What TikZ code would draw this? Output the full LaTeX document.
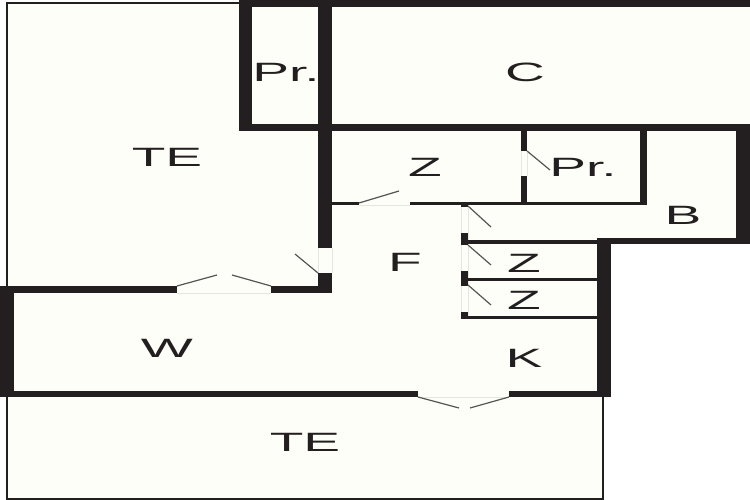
\documentclass[tikz,border=0pt]{standalone}
\usepackage{fontspec}
\setmainfont{Liberation Sans}
\definecolor{wallc}{HTML}{231F20}
\definecolor{roomc}{HTML}{FEFEF8}
\definecolor{gapc}{HTML}{E6E6E1}
\definecolor{leafc}{HTML}{555555}
\tikzset{
  wall/.style={fill=wallc,draw=none},
  thinwall/.style={draw=wallc,line width=2pt},
  leaf/.style={draw=leafc,line width=1.2pt},
  gapline/.style={draw=gapc,line width=1pt},
  roomlabel/.style={font=\fontsize{26.5}{26.5}\selectfont,text=wallc,transform shape,xscale=2.08,inner sep=0pt}
}
\begin{document}
\begin{tikzpicture}[x=1pt,y=-1pt]
\useasboundingbox (0,0) rectangle (750,500);
\fill[white] (0,0) rectangle (750,500);
% room floor
\fill[roomc] (7,2) -- (750,2) -- (750,244) -- (604,244) -- (604,499) -- (7,499) -- cycle;
% thin outer walls of the terraces
\draw[thinwall] (239,3) -- (7,3) -- (7,286);
\draw[thinwall] (7,397) -- (7,499) -- (603,499) -- (603,397);
% door gap lines
\draw[gapline] (359,205.5) -- (410,205.5);
\draw[gapline] (177,293) -- (271,293);
\draw[gapline] (418,397.5) -- (509,397.5);
\draw[gapline] (318,248) -- (318,273);
\draw[gapline] (332,248) -- (332,273);
\draw[gapline] (521,151) -- (521,176);
\draw[gapline] (527,151) -- (527,176);
\draw[gapline] (461,205) -- (461,316);
\draw[gapline] (468,205) -- (468,316);
% thick walls
\fill[wall] (239,0) rectangle (750,7);
\fill[wall] (239,0) rectangle (252,130);
\fill[wall] (318,0) rectangle (332,248);
\fill[wall] (239,124) rectangle (750,131);
\fill[wall] (736,124) rectangle (750,244);
\fill[wall] (597,238) rectangle (750,244);
\fill[wall] (597,238) rectangle (611,397);
\fill[wall] (521,131) rectangle (527,151);
\fill[wall] (521,176) rectangle (527,205);
\fill[wall] (640,131) rectangle (647,205);
\fill[wall] (332,202) rectangle (359,205);
\fill[wall] (410,202) rectangle (647,205);
\fill[wall] (461,203) rectangle (468,207);
\fill[wall] (461,233) rectangle (468,245);
\fill[wall] (461,271) rectangle (468,286);
\fill[wall] (461,312) rectangle (468,319);
\fill[wall] (468,240) rectangle (597,244);
\fill[wall] (468,278) rectangle (597,281);
\fill[wall] (468,316) rectangle (597,319);
\fill[wall] (318,273) rectangle (332,293);
\fill[wall] (0,286) rectangle (177,293);
\fill[wall] (271,286) rectangle (332,293);
\fill[wall] (0,286) rectangle (14,397);
\fill[wall] (0,391) rectangle (418,397);
\fill[wall] (509,391) rectangle (611,397);
% door leaves
\draw[leaf] (359,203) -- (399,191);
\draw[leaf] (527,151) -- (550,170);
\draw[leaf] (468,206) -- (491,227);
\draw[leaf] (468,245) -- (491,265);
\draw[leaf] (468,285) -- (491,305);
\draw[leaf] (318,273) -- (295,254);
\draw[leaf] (177,286) -- (217,275);
\draw[leaf] (271,286) -- (232,275);
\draw[leaf] (418,397) -- (459,408);
\draw[leaf] (509,397) -- (470,408);
% labels
\node[roomlabel] (pr1) at (286,72) {Pr.};
\node[roomlabel] (c) at (525,72) {C};
\node[roomlabel] (te1) at (167,157) {TE};
\node[roomlabel] (z1) at (425,167) {Z};
\node[roomlabel] (pr2) at (583,167) {Pr.};
\node[roomlabel] (b) at (683,215) {B};
\node[roomlabel] (f) at (405,262) {F};
\node[roomlabel] (z2) at (524,263) {Z};
\node[roomlabel] (z3) at (524,300) {Z};
\node[roomlabel] (w) at (167,348) {W};
\node[roomlabel] (k) at (524,358) {K};
\node[roomlabel] (te2) at (305,442) {TE};
\end{tikzpicture}
\end{document}
